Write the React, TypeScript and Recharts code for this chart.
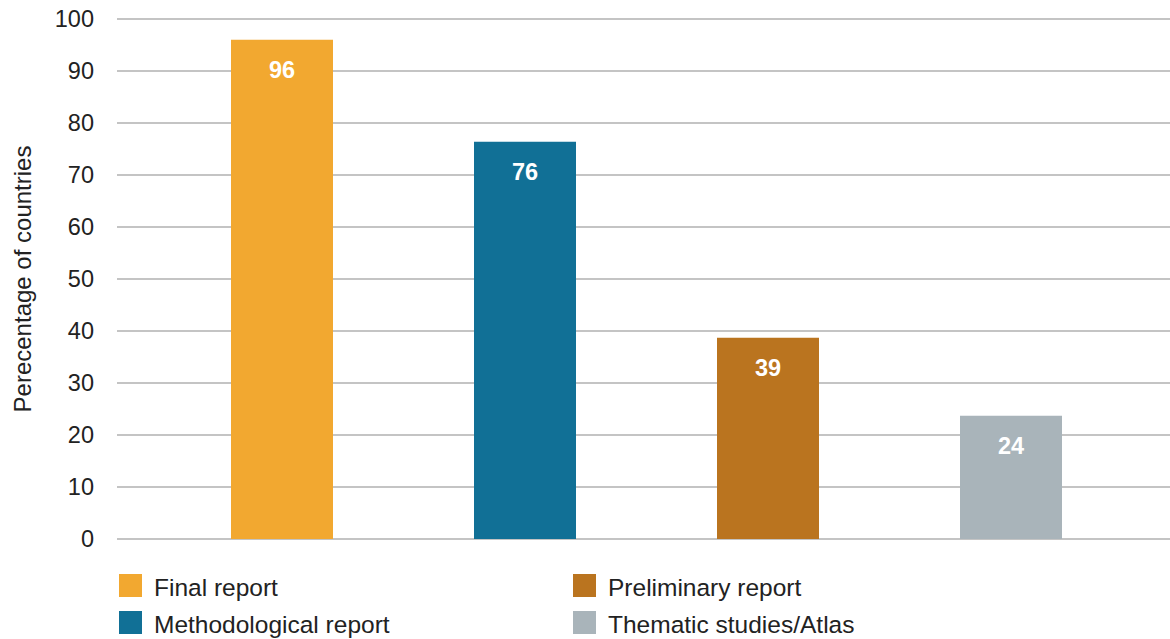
import { BarChart, Bar, XAxis, YAxis, CartesianGrid, LabelList } from "recharts";

const series = [
  "Final report",
  "Methodological report",
  "Preliminary report",
  "Thematic studies/Atlas",
];
const values = [96, 76.4, 38.7, 23.7];
const colors = ["#f2a830", "#117096", "#ba741f", "#a9b4ba"];
const yTicks = [0, 10, 20, 30, 40, 50, 60, 70, 80, 90, 100];

const FONT = "'Liberation Sans', Arial, Helvetica, sans-serif";

// one row, one key per series, so the bars sit side by side
const row: Record<string, string | number> = { name: "all" };
series.forEach((s, i) => {
  row[s] = values[i];
});
const data = [row];

// legend is laid out in two columns: [0,1] left, [2,3] right
const legendCols = [
  [0, 1],
  [2, 3],
];

export default function App() {
  return (
    <div
      style={{
        position: "absolute",
        left: 0,
        top: 0,
        width: 1170,
        height: 639,
        background: "#fff",
        fontFamily: FONT,
      }}
    >
      <BarChart
        width={1170}
        height={560}
        data={data}
        margin={{ top: 19, right: -6, left: 0, bottom: 21 }}
        barSize={102}
        barGap={141}
      >
        <CartesianGrid vertical={false} stroke="#b0b0b0" strokeWidth={1.3} />
        <XAxis dataKey="name" hide />
        <YAxis
          width={117}
          domain={[0, 100]}
          ticks={yTicks}
          axisLine={false}
          tickLine={false}
          tickSize={6}
          tickMargin={17}
          tick={{ fill: "#222", fontSize: 23.5, fontFamily: FONT }}
          label={{
            value: "Perecentage of countries",
            angle: -90,
            position: "center",
            dx: -36,
            style: { fill: "#222", fontSize: 24, fontFamily: FONT },
          }}
        />
        {series.map((s, i) => (
          <Bar key={s} dataKey={s} fill={colors[i]} isAnimationActive={false}>
            <LabelList
              dataKey={s}
              position="insideTop"
              offset={22}
              formatter={(v: any) => Math.round(Number(v))}
              style={{
                fill: "#fff",
                fontSize: 23.5,
                fontWeight: "bold",
                fontFamily: FONT,
              }}
            />
          </Bar>
        ))}
      </BarChart>
      {legendCols.map((col, c) => (
        <div
          key={c}
          style={{
            position: "absolute",
            left: c === 0 ? 119 : 573,
            top: 574,
          }}
        >
          {col.map((idx) => (
            <div
              key={idx}
              style={{
                display: "flex",
                alignItems: "center",
                height: 23,
                marginBottom: 14,
              }}
            >
              <div
                style={{
                  width: 23,
                  height: 23,
                  background: colors[idx],
                  marginRight: 12,
                }}
              />
              <span
                style={{
                  fontSize: 24.5,
                  color: "#222",
                  whiteSpace: "nowrap",
                  position: "relative",
                  top: 2,
                }}
              >
                {series[idx]}
              </span>
            </div>
          ))}
        </div>
      ))}
    </div>
  );
}
